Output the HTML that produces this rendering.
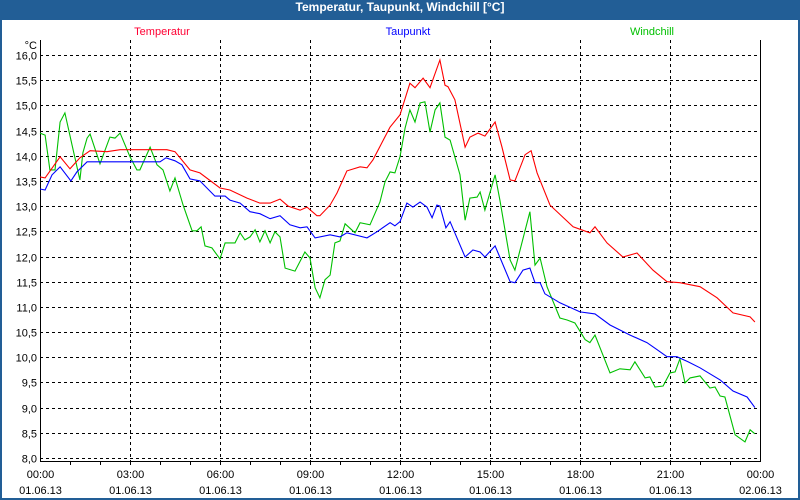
<!DOCTYPE html>
<html><head><meta charset="utf-8">
<style>
html,body{margin:0;padding:0;background:#fff;}
#win{position:relative;width:796px;height:478px;border:2px solid #225e96;border-top:20px solid #225e96;background:#fff;overflow:hidden;}
#title{position:absolute;left:0;top:0;width:800px;height:20px;line-height:20px;text-align:center;color:#fff;font:bold 12px "Liberation Sans",sans-serif;}
svg text{font-family:"Liberation Sans","DejaVu Sans",sans-serif;font-size:11px;}
</style></head><body>
<div id="win"></div>
<div id="title">Temperatur, Taupunkt, Windchill [°C]</div>
<svg id="chart" width="800" height="500" style="position:absolute;left:0;top:0"></svg>
<script>
const yTicks=[8.0,8.5,9.0,9.5,10.0,10.5,11.0,11.5,12.0,12.5,13.0,13.5,14.0,14.5,15.0,15.5,16.0];
const xTickHours=[0,3,6,9,12,15,18,21,24];
const xTimeLabels=["00:00","03:00","06:00","09:00","12:00","15:00","18:00","21:00","00:00"];
const xDateLabels=["01.06.13","01.06.13","01.06.13","01.06.13","01.06.13","01.06.13","01.06.13","01.06.13","02.06.13"];
const tempHours=[0,.17,.67,1,1.33,1.67,2.23,2.67,4.23,4.5,5,5.33,6,6.33,6.9,7.33,7.67,8,8.27,8.67,8.9,9.23,9.33,9.67,9.9,10.23,10.67,10.9,11.1,11.67,12,12.33,12.5,12.77,13,13.33,13.5,13.6,13.83,14.17,14.33,14.6,14.83,15.17,15.4,15.67,15.83,16.17,16.37,16.57,17,17.77,18.33,18.5,18.9,19.43,19.9,20.43,20.9,21.33,22,22.57,23.1,23.67,23.83];
const tempValues=[13.58,13.56,13.98,13.74,13.96,14.10,14.08,14.12,14.12,14.08,13.72,13.66,13.36,13.32,13.16,13.06,13.06,13.14,13.0,12.92,12.98,12.81,12.81,13.02,13.26,13.70,13.78,13.76,13.92,14.57,14.81,15.44,15.35,15.54,15.35,15.9,15.4,15.37,15.11,14.17,14.37,14.45,14.39,14.67,14.17,13.52,13.50,14.02,14.10,13.66,13.02,12.59,12.47,12.59,12.27,11.99,12.07,11.73,11.50,11.48,11.40,11.18,10.88,10.80,10.70];
const dewHours=[0,.17,.4,.67,1.03,1.23,1.57,4,4.2,4.5,4.73,5,5.33,5.83,6.17,6.33,6.67,7,7.33,7.67,8,8.33,8.67,8.9,9.17,9.67,10,10.23,10.9,11.23,11.67,11.83,12,12.23,12.43,12.67,12.9,13.07,13.23,13.33,13.53,13.67,14.17,14.43,14.67,14.83,15.17,15.67,15.83,16.1,16.33,16.5,16.67,16.83,17.33,18,18.5,19,19.67,20.23,20.57,20.9,21.23,21.6,22,22.67,23.1,23.57,23.83];
const dewValues=[13.34,13.32,13.62,13.78,13.50,13.68,13.88,13.88,13.96,13.90,13.82,13.54,13.50,13.20,13.20,13.12,13.06,12.89,12.85,12.75,12.81,12.63,12.57,12.59,12.37,12.43,12.39,12.47,12.37,12.49,12.67,12.61,12.69,13.06,12.98,13.08,12.98,12.77,13.02,13.0,12.57,12.69,11.99,12.13,12.09,11.99,12.21,11.50,11.48,11.73,11.77,11.48,11.48,11.26,11.08,10.90,10.86,10.64,10.44,10.29,10.15,10.01,10.01,9.91,9.79,9.55,9.33,9.21,9.00];
const chillHours=[0,.17,.33,.5,.67,.83,1.07,1.33,1.43,1.57,1.67,2,2.33,2.5,2.67,3,3.23,3.33,3.67,3.9,4.1,4.33,4.5,4.77,5.07,5.23,5.37,5.5,5.73,6,6.17,6.5,6.67,6.83,7,7.17,7.33,7.5,7.67,7.83,8,8.17,8.5,8.83,9,9.17,9.33,9.5,9.67,9.83,10,10.17,10.5,10.67,11,11.33,11.5,11.67,11.83,12,12.17,12.33,12.5,12.67,12.83,13,13.17,13.33,13.5,13.67,14,14.17,14.33,14.57,14.67,14.83,15.17,15.33,15.67,15.83,16.33,16.5,16.67,16.9,17.33,17.57,17.83,18.17,18.33,18.5,19,19.33,19.67,19.83,20.17,20.33,20.5,20.77,21,21.17,21.33,21.5,21.67,22,22.33,22.5,22.67,22.83,23.17,23.5,23.67,23.83];
const chillValues=[14.45,14.41,13.72,13.72,14.67,14.85,14.21,13.52,14.06,14.35,14.43,13.84,14.37,14.35,14.45,13.98,13.72,13.72,14.17,13.82,13.72,13.30,13.56,13.02,12.51,12.51,12.59,12.21,12.17,11.95,12.27,12.27,12.47,12.33,12.39,12.53,12.29,12.51,12.27,12.49,12.39,11.77,11.71,12.09,11.97,11.38,11.18,11.54,11.63,12.27,12.31,12.65,12.47,12.67,12.63,13.08,13.48,13.68,13.66,13.98,14.55,14.91,14.67,15.05,15.07,14.47,14.91,15.05,14.37,14.31,13.62,12.72,13.16,13.18,13.28,12.92,13.62,13.12,11.93,11.73,12.89,11.83,11.97,11.40,10.78,10.74,10.68,10.35,10.29,10.44,9.69,9.77,9.75,9.91,9.59,9.61,9.41,9.43,9.69,9.71,9.97,9.49,9.59,9.63,9.39,9.41,9.23,9.21,8.46,8.32,8.56,8.48];

const svg=document.getElementById('chart');
const NS='http://www.w3.org/2000/svg';
const X0=40,X1=760,Y16=55,Y8=458;
function xs(h){return X0+(X1-X0)*h/24;}
function ys(v){return Y8-(v-8)*(Y8-Y16)/8;}
function mk(tag,attrs,txt){const e=document.createElementNS(NS,tag);for(const k in attrs)e.setAttribute(k,attrs[k]);if(txt!==undefined)e.textContent=txt;svg.appendChild(e);return e;}

yTicks.forEach(v=>{
  const y=Math.round(ys(v))+0.5;
  const g=mk('line',{x1:X0,x2:X1,y1:y,y2:y,stroke:'#000','stroke-width':1,'stroke-dasharray':'3,3'});
  
  
  const t=mk('text',{x:37,y:y+4,'text-anchor':'end',fill:'#000'},v.toFixed(1).replace('.',','));
  
  
});
xTickHours.forEach((h,i)=>{
  const x=Math.round(xs(h))+0.5;
  if(i>0&&i<xTickHours.length-1){
    const g=mk('line',{x1:x,x2:x,y1:40,y2:461,stroke:'#000','stroke-width':1,'stroke-dasharray':'3,3'});
    
    
  }
  const t1=mk('text',{x:x,y:478,'text-anchor':'middle',fill:'#000'},xTimeLabels[i]);
  
  
  const t2=mk('text',{x:x,y:494,'text-anchor':'middle',fill:'#000'},xDateLabels[i]);
  
  
});
for(let h=1;h<24;h++){
  const x=Math.round(xs(h))+0.5;
  const tk=mk('line',{x1:x,x2:x,y1:461,y2:465,stroke:'#000'});
  
  
}
const ax=mk('path',{d:'M40.5,40 V461.5 H760.5 V40',fill:'none',stroke:'#000','stroke-width':1});


const unit=mk('text',{x:37,y:49,'text-anchor':'end',fill:'#000'},'°C');



function series(hours,vals,color,name){
  const d=hours.map((h,i)=>(i?'L':'M')+xs(h).toFixed(1)+','+ys(vals[i]).toFixed(1)).join(' ');
  const p=mk('path',{d:d,fill:'none',stroke:color,'stroke-width':1.1});
  
  
}
series(chillHours,chillValues,'#00c000','windchill-line');
series(dewHours,dewValues,'#0000ff','taupunkt-line');
series(tempHours,tempValues,'#ff0000','temperatur-line');

[['Temperatur','#ff0033',162,'legend-temperatur'],['Taupunkt','#0000ff',408,'legend-taupunkt'],['Windchill','#00c000',652,'legend-windchill']].forEach(l=>{
  const t=mk('text',{x:l[2],y:35,'text-anchor':'middle',fill:l[1]},l[0]);
  
  
});
</script>
</body></html>
